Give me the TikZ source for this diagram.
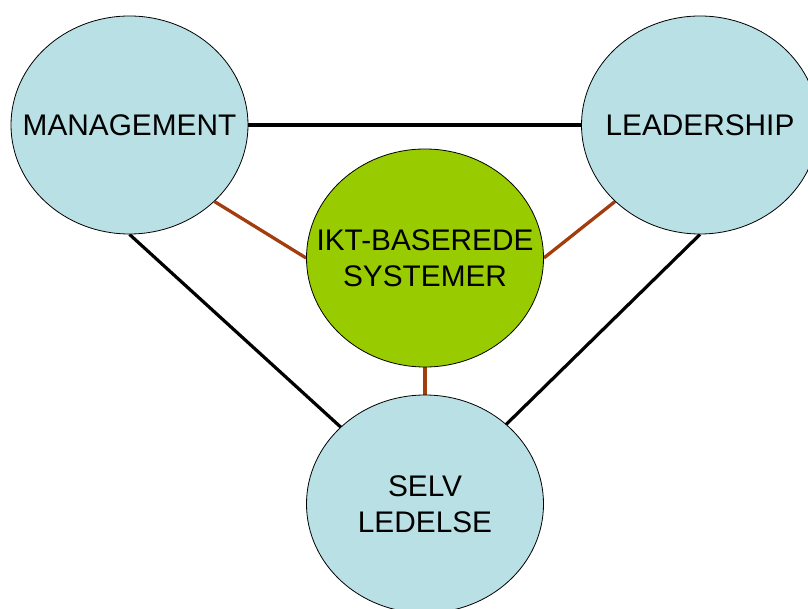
\documentclass[tikz,border=0pt]{standalone}
\usepackage{fontspec}
\setmainfont{Liberation Sans}
\usetikzlibrary{shapes.geometric,backgrounds}
\definecolor{circblue}{RGB}{185,224,228}
\definecolor{ictgreen}{RGB}{153,204,0}
\definecolor{linkbrown}{RGB}{163,61,13}
\tikzset{
  bubble/.style={ellipse,draw=black,line width=0.8pt,fill=circblue,minimum width=237pt,minimum height=218pt,inner sep=0pt},
  ictbubble/.style={bubble,fill=ictgreen},
  bubbletext/.style={align=center,inner sep=0pt,font=\fontsize{29.8}{35.5}\selectfont},
  mainlink/.style={draw=black,line width=3.2pt},
  ictlink/.style={draw=linkbrown,line width=3.3pt}
}
\begin{document}
\begin{tikzpicture}[x=1pt,y=-1pt]
\useasboundingbox (0,0) rectangle (808,609);
\clip (0,0) rectangle (808,609);
\node[bubble,label={[bubbletext]center:MANAGEMENT}] (man) at (129.5,125) {};
\node[bubble,label={[bubbletext]center:LEADERSHIP}] (lead) at (700,125) {};
\node[ictbubble,label={[bubbletext]center:{IKT-BASEREDE\\SYSTEMER}}] (ikt) at (425,258) {};
\node[bubble,label={[bubbletext]center:{SELV\\LEDELSE}}] (selv) at (425,504) {};
\begin{scope}[on background layer]
\draw[mainlink] (man.east) -- (lead.west);
\draw[mainlink] (man.south) -- (selv.center);
\draw[mainlink] (lead.south) -- (selv.center);
\draw[ictlink] (man.-42) -- (ikt.west);
\draw[ictlink] (lead.222) -- (ikt.east);
\draw[ictlink] (ikt.south) -- (selv.north);
\end{scope}
\end{tikzpicture}
\end{document}
